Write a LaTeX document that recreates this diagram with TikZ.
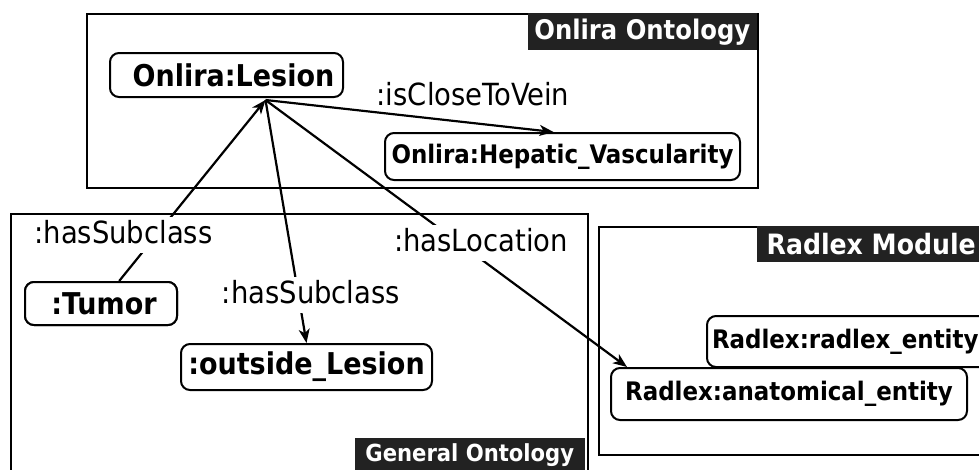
\documentclass[tikz,border=0pt]{standalone}
\usepackage{fontspec}
\setmainfont{DejaVu Sans Condensed}
\usetikzlibrary{calc,arrows.meta}
\definecolor{tagdark}{HTML}{222222}
\begin{document}
\begin{tikzpicture}[x=1pt,y=-1pt,
  cls/.style={draw,line width=2pt,rounded corners=9pt,fill=white,inner sep=0pt,font=\bfseries\fontsize{30}{34}\selectfont},
  clsmid/.style={cls,font=\bfseries\fontsize{25.5}{29}\selectfont},
  rel/.style={inner sep=0pt,font=\fontsize{30.5}{34}\selectfont},
  cut/.style={rel,fill=white,text height=22pt,text depth=6pt,inner ysep=4pt,inner xsep=3pt,anchor=base},
  area/.style={draw,line width=1.6pt,inner sep=0pt},
  tag/.style={fill=tagdark,text=white,inner sep=0pt},
  conn/.style={line width=2.2pt,-{Stealth[length=14pt,width=11pt,inset=4pt]}}]
\useasboundingbox (0,0) rectangle (979,469);
\clip (0,0) rectangle (979,469);

% ontology frames
\node[area,line width=2pt,minimum width=671,minimum height=174,anchor=north west] (onlira) at (86,13) {};
\node[area,minimum width=577,minimum height=270,anchor=north west] (general) at (10,213) {};
\node[area,minimum width=390,minimum height=228,anchor=north west] (radlex) at (598,226) {};

% frame titles
\node[tag,minimum width=229,minimum height=37,anchor=north east,font=\bfseries\fontsize{27}{31}\selectfont] (tonlira) at (757,13) {Onlira Ontology};
\node[tag,minimum width=230,minimum height=34,anchor=north east,font=\bfseries\fontsize{23.5}{27}\selectfont] (tgeneral) at (585,438) {General Ontology};
\node[tag,minimum width=228,minimum height=36,anchor=north west,font=\bfseries\fontsize{28}{32}\selectfont] (tradlex) at (757,226) {Radlex Module};

% classes
\node[cls,minimum width=233,minimum height=44] (L) at (226.5,75) {\hspace*{14pt}Onlira:Lesion};
\node[clsmid,minimum width=355,minimum height=47] (H) at (562.5,156.5) {Onlira:Hepatic\_Vascularity};
\node[cls,minimum width=152,minimum height=43] (T) at (101,303.5) {\hspace*{6pt}:Tumor};
\node[cls,minimum width=251,minimum height=46] (O) at (306.5,367) {:outside\_Lesion};
\node[clsmid,minimum height=51,inner xsep=5pt,anchor=west] (R) at (706,341.5) {Radlex:radlex\_entity\hspace*{8pt}};
\node[clsmid,minimum width=356,minimum height=52] (A) at (789,394) {Radlex:anatomical\_entity};

\coordinate (hub) at ($(L.south)+(39,2)$);

% relations
\draw[conn] (T) -- (hub);
\draw[conn] (hub) -- (O.north);
\draw[conn] (hub) -- ($(A.north west)+(17,0)$);
\draw[conn] (hub) -- ($(H.north)+(-9,0)$);

% relation labels
\node[rel,anchor=base] (lclose) at (473,105) {:isCloseToVein};
\node[cut] (lsub1) at (123.5,243) {:hasSubclass};
\node[cut] (lsub2) at (311,303) {:hasSubclass};
\node[cut] (lloc) at (481,251) {:hasLocation};

% the Tumor box sits above its connector
\node[cls,minimum width=152,minimum height=43] at (T) {\hspace*{6pt}:Tumor};
\end{tikzpicture}
\end{document}
